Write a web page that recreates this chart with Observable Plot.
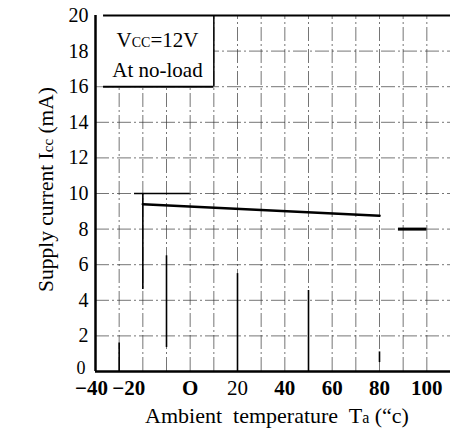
<!DOCTYPE html>
<html>
<head>
<meta charset="utf-8">
<script src="https://cdn.jsdelivr.net/npm/d3@7"></script>
<script src="https://cdn.jsdelivr.net/npm/@observablehq/plot@0.6"></script>
<style>
  html, body { margin: 0; padding: 0; background: #fff; }
  svg { display: block; }
</style>
</head>
<body>
<div id="chart"></div>
<script>
// ---- data ----
const xTicks = [-40, -20, 0, 20, 40, 60, 80, 100];
const xTickLabels = ["−40", "−20", "O", "20", "40", "60", "80", "100"];
const xTickBold = [true, true, true, false, true, true, true, true];
const yTicks = [0, 2, 4, 6, 8, 10, 12, 14, 16, 18, 20];
const gridX = [-30, -20, -10, 0, 10, 20, 30, 40, 50, 60, 70, 80, 90, 100];
const gridY = [2, 4, 6, 8, 10, 12, 14, 16, 18];
const temps = [-20, 80];          // Ta (°C)
const currents = [9.4, 8.75];     // Icc (mA)
// darker (scanned) partial grid segments
const darkVx = [-30, -20, -10, 20, 50, 80];
const darkVlo = [0, 4.6, 1.35, 0, 0, 0.5];
const darkVhi = [1.6, 10, 6.5, 5.5, 4.55, 1.1];
const darkHy = [10, 8];
const darkHlo = [-23.5, 88];
const darkHhi = [0, 100];
const darkHw = [1.3, 3];
const legendLines = ["Vcc=12V", "At no-load"];
const boxX = [-36.6, 10];
const boxY = [16, 20];

const xLabel = "Ambient temperature Ta (“c)";
const yLabel = "Supply current Icc (mA)";

const serif = "Liberation Serif";

const line = temps.map((t, i) => ({t, c: currents[i]}));
const tickData = xTicks.map((v, i) => ({v, label: xTickLabels[i], bold: xTickBold[i]}));
const darkV = darkVx.map((x, i) => ({x, y1: darkVlo[i], y2: darkVhi[i]}));
const darkH = darkHy.map((y, i) => ({y, x1: darkHlo[i], x2: darkHhi[i], w: darkHw[i]}));

const gridStyle = {stroke: "#333", strokeWidth: 0.8, strokeDasharray: "14,3,2,3", strokeOpacity: 0.85};
const txt = {fontFamily: serif, fill: "#000"};

const chart = Plot.plot({
  width: 450,
  height: 431,
  marginLeft: 95,
  marginRight: 0,
  marginTop: 15,
  marginBottom: 60,
  x: {domain: [-40, 110], axis: null},
  y: {domain: [0, 20], axis: null},
  style: {fontFamily: serif, background: "#fff", color: "#000"},
  marks: [
    // grid
    Plot.ruleX(gridX, {x: d => d, y1: 0, y2: 20, ...gridStyle}),
    Plot.ruleY(gridY, {y: d => d, x1: -40, x2: 110, ...gridStyle}),
    // darker scanned segments
    Plot.ruleX(darkV, {x: "x", y1: "y1", y2: "y2", stroke: "#000", strokeWidth: 1.6}),
    Plot.ruleY(darkH, {y: "y", x1: "x1", x2: "x2", stroke: "#000", strokeWidth: "w"}),
    // legend box (opaque)
    Plot.rect([0], {x1: -40, x2: boxX[1], y1: boxY[0], y2: boxY[1], fill: "#fff", inset: 0}),
    Plot.ruleY([boxY[0]], {x1: boxX[0], x2: boxX[1], stroke: "#000", strokeWidth: 2}),
    Plot.ruleX([boxX[1]], {y1: boxY[0], y2: boxY[1], stroke: "#000", strokeWidth: 1.5}),
    Plot.text([legendLines[0]], {frameAnchor: "top-left", dx: 62, dy: 17, text: d => d, fontSize: 21, textAnchor: "middle", ...txt}),
    Plot.text([legendLines[1]], {frameAnchor: "top-left", dx: 62, dy: 47, text: d => d, fontSize: 21, textAnchor: "middle", ...txt}),
    // frame top and axes lines
    Plot.ruleY([20], {x1: boxX[0], x2: 110, stroke: "#000", strokeWidth: 2}),
    Plot.ruleX([-40], {y1: 0, y2: 20, stroke: "#000", strokeWidth: 2.5}),
    Plot.ruleY([0], {x1: -40, x2: 110, stroke: "#000", strokeWidth: 2.5}),
    // data
    Plot.line(line, {x: "t", y: "c", stroke: "#000", strokeWidth: 2.6}),
    // y tick labels
    Plot.text(yTicks.filter(d => d > 0), {y: d => d, frameAnchor: "left", dx: -7, text: d => String(d), textAnchor: "end", fontSize: 20, ...txt}),
    Plot.text(yTicks.filter(d => d === 0), {y: d => d, frameAnchor: "left", dx: -10, dy: -3, text: d => String(d), textAnchor: "end", fontSize: 18, ...txt}),
    // x tick labels
    Plot.text(tickData.filter(d => d.v === -40), {x: "v", frameAnchor: "bottom", dx: -4, dy: 9, lineAnchor: "top", textAnchor: "middle", text: "label", fontSize: 21, fontWeight: "bold", ...txt}),
    Plot.text(tickData.filter(d => d.v === -20), {x: "v", frameAnchor: "bottom", dx: -14, dy: 9, lineAnchor: "top", textAnchor: "middle", text: "label", fontSize: 21, fontWeight: "bold", ...txt}),
    Plot.text(tickData.filter(d => d.bold && d.v > -20), {x: "v", frameAnchor: "bottom", dy: 9, lineAnchor: "top", textAnchor: "middle", text: "label", fontSize: 21, fontWeight: "bold", ...txt}),
    Plot.text(tickData.filter(d => !d.bold), {x: "v", frameAnchor: "bottom", dy: 9, lineAnchor: "top", textAnchor: "middle", text: "label", fontSize: 21, ...txt}),
    // axis titles
    Plot.text([yLabel], {frameAnchor: "left", dx: -49, dy: -4, rotate: -90, textAnchor: "middle", lineAnchor: "middle", text: d => d, fontSize: 21.5, ...txt}),
    Plot.text([xLabel], {frameAnchor: "bottom", dx: 4, dy: 44, textAnchor: "middle", lineAnchor: "middle", text: d => d, fontSize: 22, ...txt})
  ]
});

// subscripts (kept as real text)
d3.select(chart).selectAll("text").each(function () {
  const el = d3.select(this);
  const s = this.textContent;
  const sub = (pre, small, post, size) => {
    el.text(null);
    el.append("tspan").text(pre);
    el.append("tspan").attr("font-size", size).text(small);
    el.append("tspan").text(post);
  };
  if (s === "Vcc=12V") sub("V", "CC", "=12V", 14);
  else if (s === yLabel) sub("Supply current I", "cc", " (mA)", 15);
  else if (s === xLabel) sub("Ambient  temperature  T", "a", " (“c)", 16);
});

document.getElementById("chart").appendChild(chart);
</script>
</body>
</html>
